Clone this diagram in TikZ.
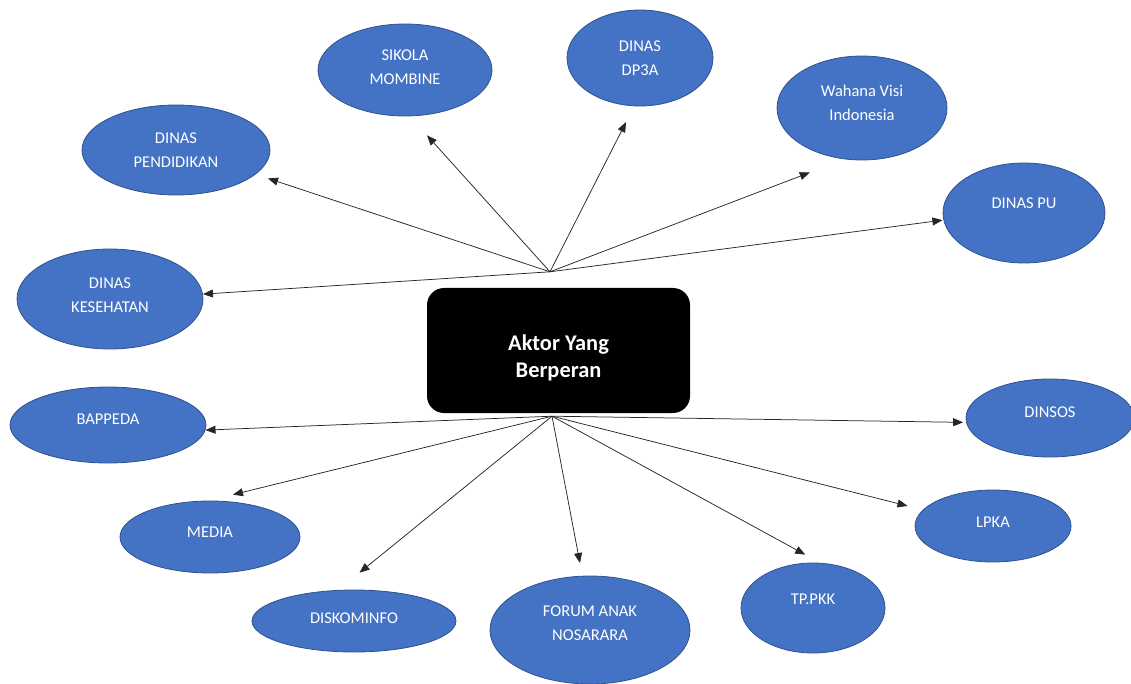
\documentclass[tikz,border=0pt]{standalone}
\usepackage{fontspec}
\setmainfont{Carlito}
\usepackage{tikz}
\usetikzlibrary{arrows.meta, shapes.geometric, positioning}
\usepackage{xcolor}
\definecolor{actorfill}{HTML}{4472C4}
\definecolor{actorline}{HTML}{2F528F}

\begin{document}
\begin{tikzpicture}[x=1pt, y=-1pt,
	actor/.style={ellipse, draw=actorline, line width=0.8pt, fill=actorfill, text=white, inner sep=0pt, align=center, font=\fontsize{16.5}{24}\selectfont},
	lift/.style={text depth=#1},
	link/.style={draw=black!85, line width=0.75pt, -{Triangle[length=10pt, width=8pt]}}]
						\useasboundingbox (0,0) rectangle (1131,684);
						\node[rounded corners=17pt, fill=black, text=white, minimum width=263pt, minimum height=125pt, align=center, text height=53.4pt, text depth=0pt, font=\bfseries\fontsize{22.4}{27}\selectfont] (aktor) at (558.5,350.5) {Aktor Yang\\Berperan};
						\coordinate[above=16pt of aktor.north, xshift=-8.5pt] (top);
						\coordinate[below=3pt of aktor.south, xshift=-6.5pt] (bot);
						\node[actor, lift=5pt, minimum width=174pt, minimum height=92pt] (sik) at (405,70) {SIKOLA\\MOMBINE};
						\node[actor, lift=0pt, minimum width=146pt, minimum height=96pt] (dp3a) at (640,58) {DINAS\\DP3A};
						\node[actor, lift=11pt, minimum width=170pt, minimum height=104pt] (wvi) at (862,108) {Wahana Visi\\Indonesia};
						\node[actor, lift=0pt, minimum width=188pt, minimum height=90pt] (pend) at (176,150) {DINAS\\PENDIDIKAN};
						\node[actor, lift=20pt, minimum width=162pt, minimum height=100pt] (pu) at (1024,213) {DINAS PU};
						\node[actor, lift=8pt, minimum width=186pt, minimum height=100pt] (kes) at (110,299) {DINAS\\KESEHATAN};
						\node[actor, lift=12pt, minimum width=196pt, minimum height=76pt] (bap) at (108,425) {BAPPEDA};
						\node[actor, lift=12pt, minimum width=168pt, minimum height=78pt] (sos) at (1050,418) {DINSOS};
						\node[actor, lift=10pt, minimum width=180pt, minimum height=72pt] (med) at (210,537) {MEDIA};
						\node[actor, lift=8pt, minimum width=156pt, minimum height=72pt] (lpka) at (993,526) {LPKA};
						\node[actor, lift=6pt, minimum width=204pt, minimum height=62pt] (kom) at (354,621) {DISKOMINFO};
						\node[actor, lift=13pt, minimum width=200pt, minimum height=108pt] (fan) at (590,630) {FORUM ANAK\\NOSARARA};
						\node[actor, lift=18pt, minimum width=144pt, minimum height=90pt] (pkk) at (813,608) {TP.PKK};
						\draw
						(top) edge[link, shorten >=25.6pt] (sik.-84)
						(top) edge[link, shorten >=17.8pt] (dp3a.-97)
						(top) edge[link, shorten >=37pt] (wvi.-109)
						(top) edge[link, shorten >=13pt] (pend.-17)
						(top) edge[link, shorten >=1pt] (pu.-175)
						(top) edge[link] (kes.3)
						(bot) edge[link] (bap.-3)
						(bot) edge[link, shorten >=3pt] (sos.-177)
						(bot) edge[link, shorten >=25pt] (med.92)
						(bot) edge[link, shorten >=27.5pt] (kom.117)
						(bot) edge[link, shorten >=13pt] (fan.98)
						(bot) edge[link, shorten >=17pt] (pkk.81)
						(bot) edge[link, shorten >=15.8pt] (lpka.167);
					\end{tikzpicture}
\end{document}
